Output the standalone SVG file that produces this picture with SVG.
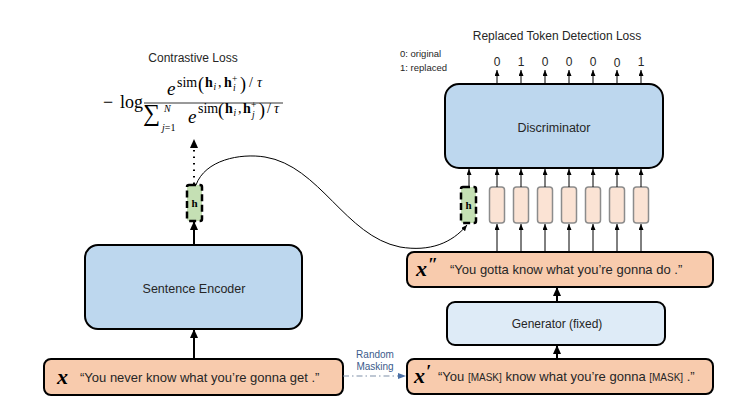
<svg xmlns="http://www.w3.org/2000/svg" width="737" height="413" viewBox="0 0 737 413">
<style>
.box{stroke:#000;stroke-width:2}
.blue{fill:#bdd7ee}
.lblue{fill:#deebf7}
.peach{fill:#f8cbad}
.tok{fill:#fbe3d4;stroke:#8c8c8c;stroke-width:1.5}
.hb{fill:#c5e0b4;stroke:#000;stroke-width:2.5;stroke-dasharray:7 3.5}
.t{font-family:"Liberation Sans",Arial,sans-serif;fill:#262626}
.m{font-family:"Liberation Serif","DejaVu Serif",serif;fill:#000}
.mi{font-family:"Liberation Serif","DejaVu Serif",serif;font-style:italic;fill:#000}
.b{font-weight:bold}
.thick{stroke:#000;stroke-width:2;fill:none}
.thin{stroke:#000;stroke-width:1;fill:none}
</style>
<defs>
<marker id="big" markerWidth="9" markerHeight="8" refX="8" refY="4" orient="auto" markerUnits="userSpaceOnUse"><path d="M0,0 L9,4 L0,8 z" fill="#000"/></marker>
<marker id="sm" markerWidth="6" markerHeight="5" refX="6" refY="2.5" orient="auto" markerUnits="userSpaceOnUse"><path d="M0,0 L6,2.5 L0,5 z" fill="#000"/></marker>
<marker id="bl" markerWidth="8" markerHeight="6" refX="8" refY="3" orient="auto" markerUnits="userSpaceOnUse"><path d="M0,0 L8,3 L0,6 z" fill="#4a6fa5"/></marker>
</defs>

<g id="contrastive-loss">
<text x="193" y="62" class="t" font-size="12" text-anchor="middle">Contrastive Loss</text>
<text x="103" y="108" class="m" font-size="18">−</text>
<text x="120" y="108" class="m" font-size="18">log</text>
<line x1="144" y1="103" x2="283" y2="103" stroke="#000" stroke-width="0.8"/>
<text x="167" y="95" class="mi" font-size="19">e</text>
<text class="m" font-size="14" x="177" y="87">sim</text>
<text class="m" font-size="18" x="198" y="90">(</text>
<text class="m b" font-size="14" x="205" y="87">h</text>
<text class="mi" font-size="9.5" x="213.5" y="90">i</text>
<text class="m" font-size="14" x="218" y="87">,</text>
<text class="m b" font-size="14" x="224" y="87">h</text>
<text class="m" font-size="9.5" x="232" y="82">+</text>
<text class="mi" font-size="9.5" x="233" y="91">i</text>
<text class="m" font-size="18" x="240" y="90">)</text>
<text class="m" font-size="14" x="249" y="87">/</text>
<text class="mi" font-size="14" x="257" y="87">τ</text>
<text class="m" font-size="24" x="143" y="121">∑</text>
<text class="mi" font-size="10" x="164" y="112">N</text>
<text class="m" font-size="10" x="162" y="131"><tspan font-style="italic">j</tspan>=1</text>
<text x="188" y="123" class="mi" font-size="19">e</text>
<text class="m" font-size="14" x="198" y="113">sim</text>
<text class="m" font-size="18" x="218" y="116">(</text>
<text class="m b" font-size="14" x="225" y="113">h</text>
<text class="mi" font-size="9.5" x="233.5" y="116">i</text>
<text class="m" font-size="14" x="238" y="113">,</text>
<text class="m b" font-size="14" x="243" y="113">h</text>
<text class="m" font-size="9.5" x="251" y="108">+</text>
<text class="mi" font-size="9.5" x="252" y="118">j</text>
<text class="m" font-size="18" x="259" y="116">)</text>
<text class="m" font-size="14" x="267" y="113">/</text>
<text class="mi" font-size="14" x="274" y="113">τ</text>
</g>

<g id="rtd-loss">
<text x="557" y="40" class="t" font-size="12" text-anchor="middle">Replaced Token Detection Loss</text>
<text x="400" y="57" class="t" font-size="9.5">0: original</text>
<text x="400" y="71" class="t" font-size="9.5">1: replaced</text>
<g class="t" font-size="12" text-anchor="middle">
<text x="497" y="66">0</text><text x="521" y="66">1</text><text x="545" y="66">0</text><text x="569" y="66">0</text><text x="593" y="66">0</text><text x="617" y="67">0</text><text x="641" y="66">1</text>
</g>
</g>

<g id="discriminator">
<rect x="445" y="84" width="218" height="84" rx="14" class="box blue"/>
<text x="554" y="132" class="t" font-size="12.5" text-anchor="middle">Discriminator</text>
</g>

<g id="h-left">
<rect x="187" y="185" width="15" height="36" rx="2" class="hb"/>
<text x="194.5" y="207" class="m b" font-size="11" text-anchor="middle">h</text>
</g>
<g id="h-right">
<rect x="461" y="187" width="15" height="36" rx="2" class="hb"/>
<text x="468.5" y="209" class="m b" font-size="11" text-anchor="middle">h</text>
</g>

<g id="tokens">
<rect x="489.5" y="187" width="15" height="36" rx="3" class="tok"/>
<rect x="513.5" y="187" width="15" height="36" rx="3" class="tok"/>
<rect x="537.5" y="187" width="15" height="36" rx="3" class="tok"/>
<rect x="561.5" y="187" width="15" height="36" rx="3" class="tok"/>
<rect x="585.5" y="187" width="15" height="36" rx="3" class="tok"/>
<rect x="609.5" y="187" width="15" height="36" rx="3" class="tok"/>
<rect x="633.5" y="187" width="15" height="36" rx="3" class="tok"/>
</g>

<g id="sentence-encoder">
<rect x="85" y="245" width="217" height="84" rx="13" class="box blue"/>
<text x="194" y="293" class="t" font-size="12.5" text-anchor="middle">Sentence Encoder</text>
</g>

<g id="x-pp">
<rect x="407" y="252" width="306" height="35" rx="7" class="box peach"/>
<text x="416" y="276" class="mi b" font-size="22">x</text>
<text x="428" y="271" class="mi b" font-size="18">″</text>
<text x="450" y="274" class="t" font-size="13">“You gotta know what you’re gonna do .”</text>
</g>

<g id="generator">
<rect x="447" y="302" width="218" height="43" rx="8" class="box lblue"/>
<text x="557" y="328" class="t" font-size="12" text-anchor="middle">Generator (fixed)</text>
</g>

<g id="x">
<rect x="44" y="359" width="299" height="36" rx="7" class="box peach"/>
<text x="57" y="384" class="mi b" font-size="22">x</text>
<text x="80" y="382" class="t" font-size="13">“You never know what you’re gonna get .”</text>
</g>

<g id="x-p">
<rect x="407" y="359" width="306" height="35" rx="7" class="box peach"/>
<text x="414" y="383" class="mi b" font-size="22">x</text>
<text x="426" y="378" class="mi b" font-size="18">′</text>
<text x="438" y="381" class="t" font-size="13">“You <tspan font-size="10">[MASK]</tspan> know what you’re gonna <tspan font-size="10">[MASK]</tspan> .”</text>
</g>

<g id="random-masking">
<text x="375" y="358" class="t" font-size="10" style="fill:#3b5b8c" text-anchor="middle">Random</text>
<text x="375" y="370" class="t" font-size="10" style="fill:#3b5b8c" text-anchor="middle">Masking</text>
</g>

<g id="connectors">
<line x1="194" y1="359" x2="194" y2="330" class="thick" marker-end="url(#big)"/>
<line x1="194" y1="245" x2="194" y2="222" class="thick" marker-end="url(#big)"/>
<line x1="194" y1="184" x2="194" y2="140" stroke="#000" stroke-width="2" stroke-dasharray="1.5 5" marker-end="url(#big)"/>
<path d="M196,185 C205,160 240,153 265,157 C320,166 345,236 400,247 C430,252 452,243 467,225" class="thin" stroke-width="1.2" marker-end="url(#sm)"/>
<line x1="343" y1="376" x2="406" y2="376" stroke="#7f8fa8" stroke-width="1.2" stroke-dasharray="6 3 1.5 3" marker-end="url(#bl)"/>
<line x1="557" y1="359" x2="557" y2="346" class="thick" marker-end="url(#big)"/>
<line x1="557" y1="302" x2="557" y2="288" class="thick" marker-end="url(#big)"/>
<line x1="469" y1="187" x2="469" y2="169" class="thin" marker-end="url(#sm)"/>
<g class="thin">
<line x1="497" y1="252" x2="497" y2="224" marker-end="url(#sm)"/>
<line x1="521" y1="252" x2="521" y2="224" marker-end="url(#sm)"/>
<line x1="545" y1="252" x2="545" y2="224" marker-end="url(#sm)"/>
<line x1="569" y1="252" x2="569" y2="224" marker-end="url(#sm)"/>
<line x1="593" y1="252" x2="593" y2="224" marker-end="url(#sm)"/>
<line x1="617" y1="252" x2="617" y2="224" marker-end="url(#sm)"/>
<line x1="641" y1="252" x2="641" y2="224" marker-end="url(#sm)"/>
<line x1="497" y1="187" x2="497" y2="169" marker-end="url(#sm)"/>
<line x1="521" y1="187" x2="521" y2="169" marker-end="url(#sm)"/>
<line x1="545" y1="187" x2="545" y2="169" marker-end="url(#sm)"/>
<line x1="569" y1="187" x2="569" y2="169" marker-end="url(#sm)"/>
<line x1="593" y1="187" x2="593" y2="169" marker-end="url(#sm)"/>
<line x1="617" y1="187" x2="617" y2="169" marker-end="url(#sm)"/>
<line x1="641" y1="187" x2="641" y2="169" marker-end="url(#sm)"/>
<line x1="497" y1="84" x2="497" y2="70" marker-end="url(#sm)"/>
<line x1="521" y1="84" x2="521" y2="70" marker-end="url(#sm)"/>
<line x1="545" y1="84" x2="545" y2="70" marker-end="url(#sm)"/>
<line x1="569" y1="84" x2="569" y2="70" marker-end="url(#sm)"/>
<line x1="593" y1="84" x2="593" y2="70" marker-end="url(#sm)"/>
<line x1="617" y1="84" x2="617" y2="70" marker-end="url(#sm)"/>
<line x1="641" y1="84" x2="641" y2="70" marker-end="url(#sm)"/>
</g>
</g>
</svg>
